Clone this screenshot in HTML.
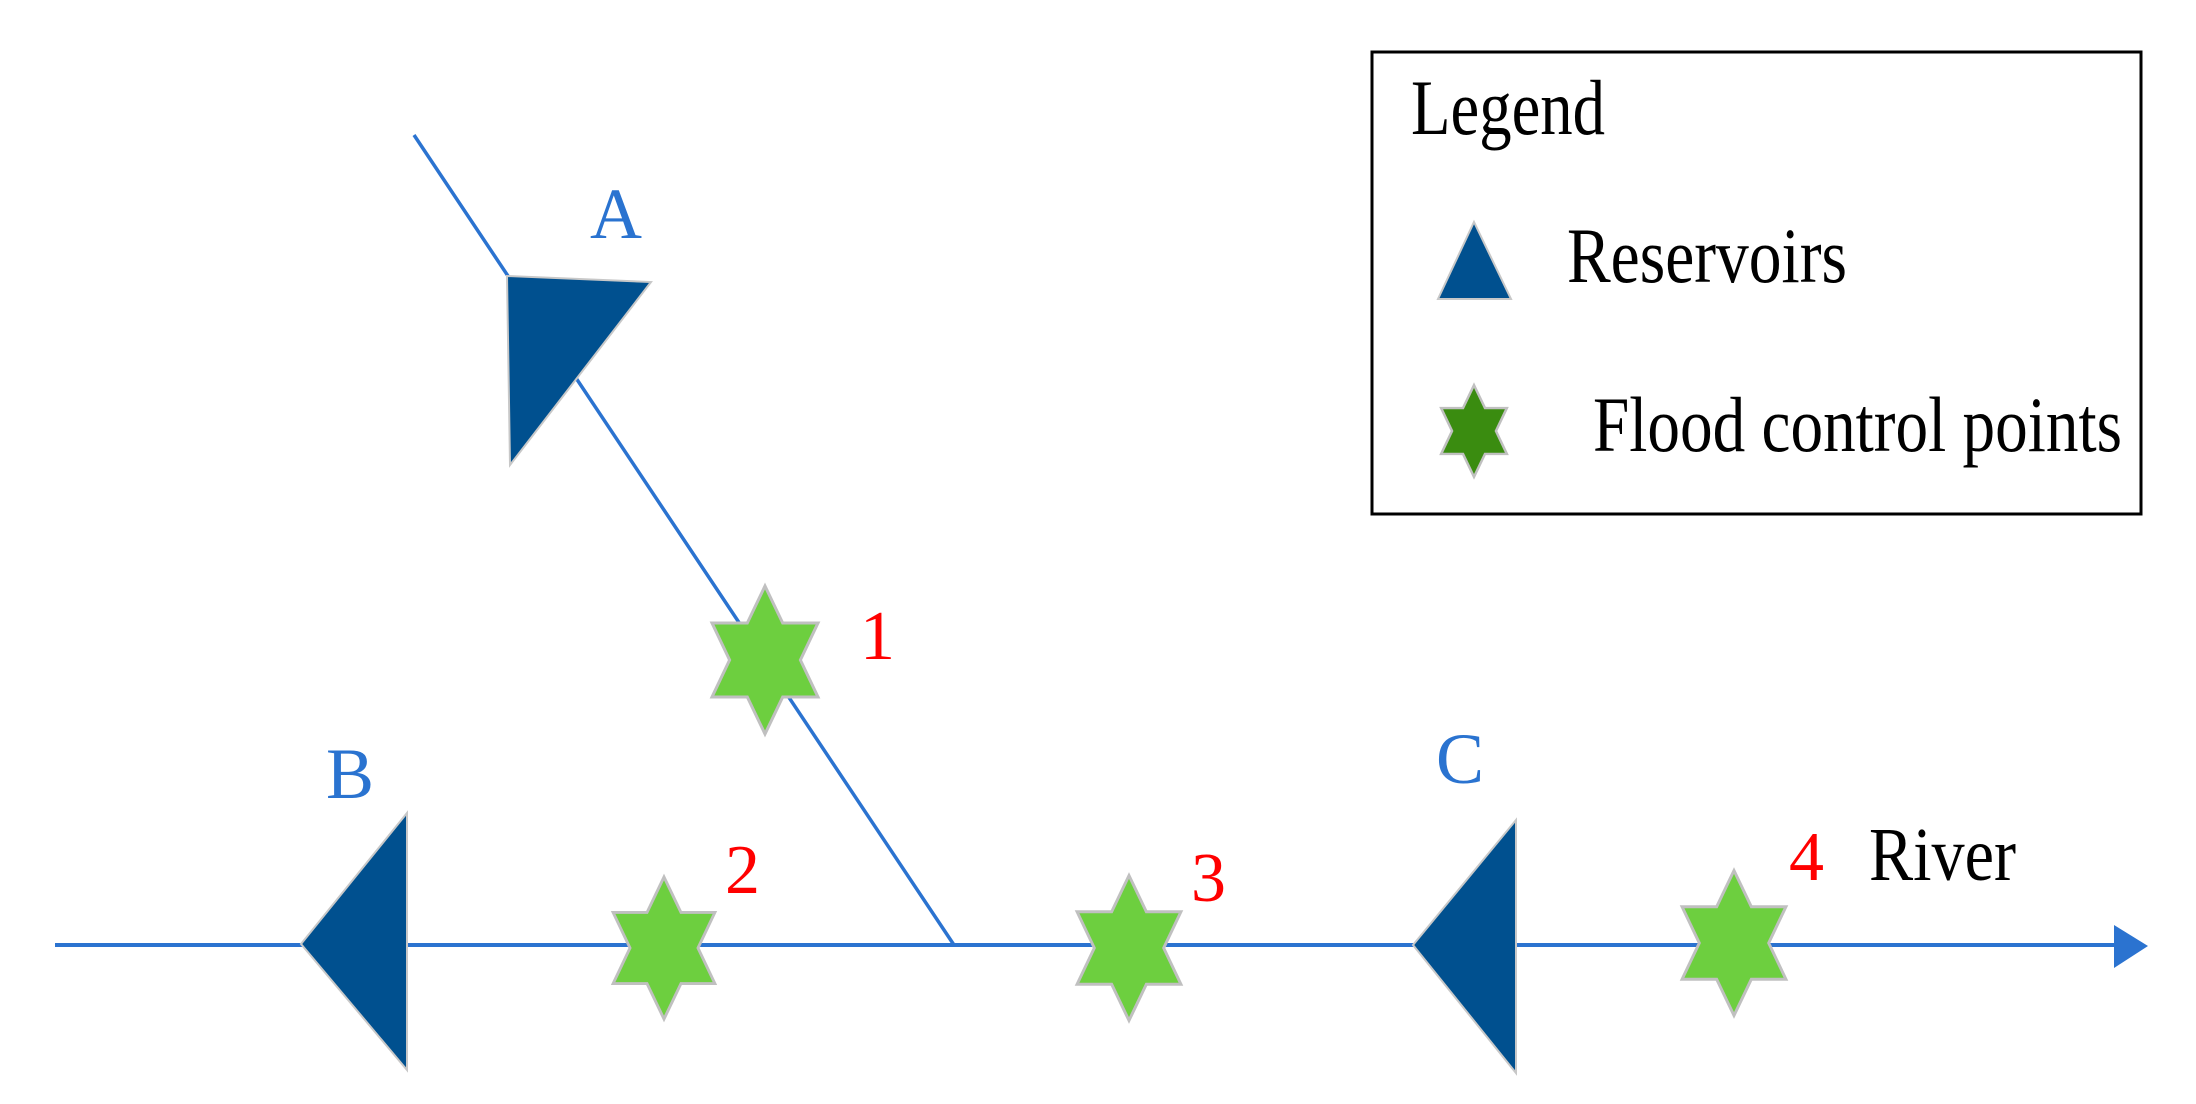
<!DOCTYPE html>
<html><head><meta charset="utf-8"><style>
html,body{margin:0;padding:0;background:#fff;}
svg{display:block;}
text{font-family:"Liberation Serif",serif;}
</style></head><body>
<svg width="2196" height="1104" viewBox="0 0 2196 1104" xmlns="http://www.w3.org/2000/svg">
<defs>
<polygon id="star" points="0,-74 17.7,-37 53,-37 35.4,0 53,37 17.7,37 0,74 -17.7,37 -53,37 -35.4,0 -53,-37 -17.7,-37"/>
</defs>
<line x1="55" y1="945" x2="2120" y2="945" stroke="#2b73d0" stroke-width="4"/>
<polygon points="2148,946 2114,925 2114,968" fill="#2b73d0"/>
<line x1="414" y1="135" x2="954" y2="945" stroke="#2b73d0" stroke-width="3.5"/>
<polygon points="507,276 651,282 510,465" fill="#00508f" stroke="#c8c8c8" stroke-width="2"/>
<polygon points="301,944 407,813 407,1070" fill="#00508f" stroke="#c8c8c8" stroke-width="2"/>
<polygon points="1413,945 1516,820 1516,1073" fill="#00508f" stroke="#c8c8c8" stroke-width="2"/>
<use href="#star" transform="translate(765,660)" fill="#6dcf3f" stroke="#c0c0c0" stroke-width="3"/>
<use href="#star" transform="translate(664,948) scale(0.96)" fill="#6dcf3f" stroke="#c0c0c0" stroke-width="3"/>
<use href="#star" transform="translate(1129,948) scale(0.98)" fill="#6dcf3f" stroke="#c0c0c0" stroke-width="3"/>
<use href="#star" transform="translate(1734,943) scale(0.98)" fill="#6dcf3f" stroke="#c0c0c0" stroke-width="3"/>
<text x="616" y="238" font-size="72" fill="#2a73d0" text-anchor="middle">A</text>
<text x="350" y="798" font-size="72" fill="#2a73d0" text-anchor="middle">B</text>
<text x="1460" y="783" font-size="72" fill="#2a73d0" text-anchor="middle">C</text>
<text x="860" y="659" font-size="70" fill="#ff0000">1</text>
<text x="725" y="893" font-size="70" fill="#ff0000">2</text>
<text x="1191" y="901" font-size="70" fill="#ff0000">3</text>
<text x="1789" y="880" font-size="70" fill="#ff0000">4</text>
<text x="1869" y="880" font-size="76" fill="#000" textLength="147" lengthAdjust="spacingAndGlyphs">River</text>
<rect x="1372" y="52" width="769" height="462" fill="#fff" stroke="#000" stroke-width="3"/>
<text x="1411" y="134" font-size="78" fill="#000" textLength="194" lengthAdjust="spacingAndGlyphs">Legend</text>
<polygon points="1474,222 1511,299 1438,299" fill="#00508f" stroke="#c8c8c8" stroke-width="2"/>
<text x="1567" y="282" font-size="78" fill="#000" textLength="280" lengthAdjust="spacingAndGlyphs">Reservoirs</text>
<use href="#star" transform="translate(1474,431) scale(0.62)" fill="#3a8c10" stroke="#c0c0c0" stroke-width="4"/>
<text x="1593" y="451" font-size="78" fill="#000" textLength="529" lengthAdjust="spacingAndGlyphs">Flood control points</text>
</svg>
</body></html>
